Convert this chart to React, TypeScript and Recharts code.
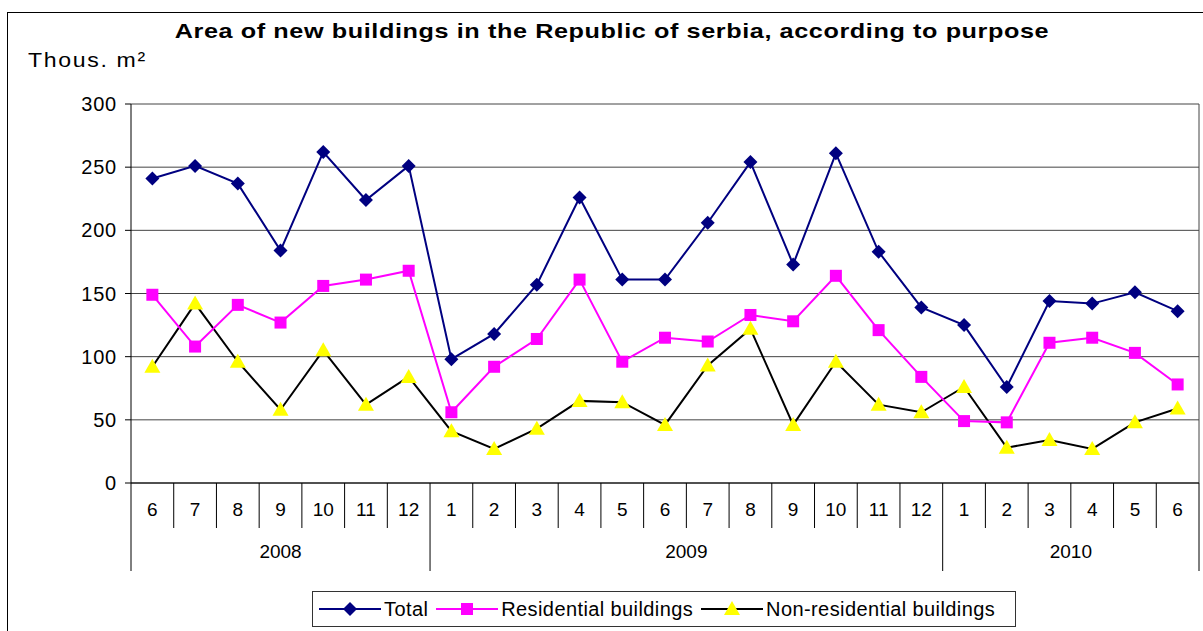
import React from 'react';
import { LineChart, Line, XAxis, YAxis, CartesianGrid } from 'recharts';

const months = ['6', '7', '8', '9', '10', '11', '12', '1', '2', '3', '4', '5', '6', '7', '8', '9', '10', '11', '12', '1', '2', '3', '4', '5', '6'];
const yearLabels = ['2008', '2009', '2010'];
const yearStarts = [0, 7, 19];
const yearLengths = [7, 12, 6];

const total = [241, 251, 237, 184, 262, 224, 251, 98, 118, 157, 226, 161, 161, 206, 254, 173, 261, 183, 139, 125, 76, 144, 142, 151, 136];
const residential = [149, 108, 141, 127, 156, 161, 168, 56, 92, 114, 161, 96, 115, 112, 133, 128, 164, 121, 84, 49, 48, 111, 115, 103, 78];
const nonResidential = [92, 142, 96, 58, 105, 62, 84, 41, 27, 43, 65, 64, 46, 93, 122, 46, 96, 62, 56, 76, 28, 34, 27, 48, 59];

const yTicks = [0, 50, 100, 150, 200, 250, 300];

const data = months.map((m, i) => ({
  key: `${i}-${m}`,
  total: total[i],
  residential: residential[i],
  nonResidential: nonResidential[i],
}));

const W = 1203;
const H = 631;
const PLOT_LEFT = 131;
const PLOT_RIGHT = 1199;
const PLOT_TOP = 104;
const PLOT_BOTTOM = 483;
const BAND = (PLOT_RIGHT - PLOT_LEFT) / months.length;
const FONT = '"Liberation Sans", Arial, sans-serif';

const NAVY = '#000080';
const PINK = '#ff00ff';
const YELLOW = '#ffff00';

const Diamond = ({ cx, cy }: any) =>
  cx == null ? null : <polygon points={`${cx},${cy - 7} ${cx + 7},${cy} ${cx},${cy + 7} ${cx - 7},${cy}`} fill={NAVY} />;

const Square = ({ cx, cy }: any) =>
  cx == null ? null : <rect x={cx - 6} y={cy - 6} width={12} height={12} fill={PINK} />;

const Triangle = ({ cx, cy }: any) =>
  cx == null ? null : <polygon points={`${cx},${cy - 8} ${cx + 8},${cy + 6} ${cx - 8},${cy + 6}`} fill={YELLOW} />;

// month label + separators, year label drawn from the first month of each year
const MonthTick = (props: any) => {
  const { x, payload } = props;
  const i: number = payload.index;
  const left = x - BAND / 2;
  const g = yearStarts.indexOf(i);
  const isLast = i === months.length - 1;
  return (
    <g>
      <line x1={left} y1={PLOT_BOTTOM} x2={left} y2={g >= 0 ? 571 : 528} stroke="#000" strokeWidth={1} />
      {isLast && <line x1={left + BAND} y1={PLOT_BOTTOM} x2={left + BAND} y2={571} stroke="#000" strokeWidth={1} />}
      <text x={x} y={516} textAnchor="middle" fontSize={19} fontFamily={FONT} fill="#000">
        {months[i]}
      </text>
      {g >= 0 && (
        <text x={left + (yearLengths[g] * BAND) / 2} y={558} textAnchor="middle" fontSize={19} fontFamily={FONT} fill="#000">
          {yearLabels[g]}
        </text>
      )}
    </g>
  );
};

const LegendItem = ({ color, marker, label, gap }: { color: string; marker: React.ReactNode; label: string; gap: number }) => (
  <div style={{ display: 'flex', alignItems: 'center', marginRight: gap }}>
    <svg width={62} height={20}>
      <line x1={0} y1={10} x2={62} y2={10} stroke={color} strokeWidth={2} />
      {marker}
    </svg>
    <span style={{ marginLeft: 3, fontSize: 20, letterSpacing: 0.4 }}>{label}</span>
  </div>
);

export default function App() {
  return (
    <div style={{ position: 'absolute', left: 0, top: 0, width: W, height: H, overflow: 'hidden', background: '#fff', fontFamily: FONT }}>
      <div style={{ position: 'absolute', left: 7, top: 12, width: W + 20, height: H + 20, border: '1px solid #000' }} />
      <div
        style={{
          position: 'absolute',
          left: 0,
          width: 1224,
          top: 19,
          textAlign: 'center',
          fontSize: 21,
          fontWeight: 'bold',
          letterSpacing: 0.5,
          transform: 'scaleX(1.2)',
          transformOrigin: '612px 0',
        }}
      >
        Area of new buildings in the Republic of serbia, according to purpose
      </div>
      <div style={{ position: 'absolute', left: 28, top: 48, fontSize: 21, letterSpacing: 1.5, transform: 'scaleX(1.1)', transformOrigin: '0 0' }}>
        Thous. m²
      </div>
      <LineChart width={W} height={H} data={data} margin={{ top: PLOT_TOP, right: W - PLOT_RIGHT, left: 0, bottom: 0 }} style={{ position: 'absolute', left: 0, top: 0 }}>
        <CartesianGrid horizontal vertical verticalPoints={[PLOT_RIGHT]} stroke="#444" strokeWidth={1} />
        <XAxis
          dataKey="key"
          height={H - PLOT_BOTTOM}
          interval={0}
          padding={{ left: BAND / 2, right: BAND / 2 }}
          tickLine={false}
          axisLine={{ stroke: '#000' }}
          tickSize={0}
          tick={<MonthTick />}
        />
        <YAxis
          width={PLOT_LEFT}
          domain={[0, 300]}
          ticks={yTicks}
          interval={0}
          tickSize={6}
          tickMargin={8}
          axisLine={{ stroke: '#000' }}
          tickLine={{ stroke: '#000' }}
          tick={{ fontSize: 20, fill: '#000', fontFamily: FONT, letterSpacing: 0.8 }}
        />
        <Line dataKey="nonResidential" stroke="#000" strokeWidth={2} dot={<Triangle />} isAnimationActive={false} />
        <Line dataKey="residential" stroke={PINK} strokeWidth={2} dot={<Square />} isAnimationActive={false} />
        <Line dataKey="total" stroke={NAVY} strokeWidth={2} dot={<Diamond />} isAnimationActive={false} />
      </LineChart>
      <div
        style={{
          position: 'absolute',
          left: 312,
          top: 591,
          width: 696,
          height: 34,
          border: '1px solid #333',
          display: 'flex',
          alignItems: 'center',
          paddingLeft: 6,
          boxSizing: 'content-box',
          background: '#fff',
        }}
      >
        <LegendItem color={NAVY} gap={8} label="Total" marker={<polygon points="31,3 38,10 31,17 24,10" fill={NAVY} />} />
        <LegendItem color={PINK} gap={8} label="Residential buildings" marker={<rect x={25} y={4} width={12} height={12} fill={PINK} />} />
        <LegendItem color="#000" gap={0} label="Non-residential buildings" marker={<polygon points="31,2 39,16 23,16" fill={YELLOW} />} />
      </div>
    </div>
  );
}
